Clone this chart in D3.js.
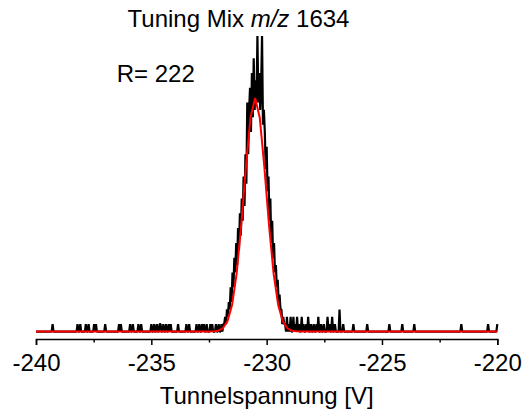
<!DOCTYPE html>
<html>
<head>
<meta charset="utf-8">
<script src="https://cdn.jsdelivr.net/npm/d3@7"></script>
<style>
  html, body { margin: 0; padding: 0; background: #fff; }
  svg { display: block; }
  text { font-family: "Liberation Sans", Arial, Helvetica, sans-serif; fill: #000; }
</style>
</head>
<body>
<svg id="chart" width="522" height="412"></svg>
<script>
// Tunnel voltage sweep: recorded ion counts (black) and Gaussian fit (red)

// Recorded trace, sampled every 0.04 V from -240 V to -220 V
const traceStart = -240;
const traceEnd = -220;
const traceStep = 0.04;

// Isolated background hits outside the peak window
const hitVoltages = [
  -239.28, -238.19, -238.08, -237.83, -237.73, -237.50, -237.40, -236.99,
  -236.39, -236.30, -235.92, -235.80, -235.57, -235.44, -235.01, -234.86,
  -234.77, -234.66, -234.58, -234.47, -234.36, -234.25, -234.16, -233.85,
  -233.49, -233.35, -233.04, -232.93, -232.82, -232.71, -232.58, -232.45,
  -232.34, -232.21, -232.10,
  -229.12, -229.05, -228.96, -228.85, -228.76, -228.68, -228.59, -228.50,
  -228.40, -228.29, -228.20, -228.09, -227.98, -227.85, -227.74, -227.64,
  -227.51, -227.38, -227.27, -227.16, -227.03, -226.84, -226.68,
  -226.23, -225.63, -224.69, -224.14, -223.60, -221.56, -220.39, -220.00
];
const hitCounts = [
  1, 1, 1, 1, 1, 1, 1, 1,
  1, 1, 1, 1, 1, 1, 1, 1,
  1, 1, 1, 1, 1, 1, 1, 1,
  1, 1, 1, 1, 1, 1, 1, 1,
  1, 1, 1,
  2, 1, 2, 2, 1, 2, 1, 2,
  1, 1, 2, 1, 1, 1, 2, 1,
  1, 2, 1, 2, 1, 3, 1,
  1, 1, 1, 1, 1, 1, 1, 1
];

// Peak window, starting at -232.00 V, one count per 0.04 V step
const peakStart = -232.0;
const peakCounts = [
  0, 1, 0, 1, 1, 2, 1, 3, 2, 4,
  3, 6, 4, 8, 6, 10, 8, 12, 9, 14,
  11, 16, 13, 18, 15, 21, 17, 24, 20, 31,
  24, 30, 33, 27, 35, 29, 37, 30, 34, 31,
  40, 31, 35, 30, 33, 40, 28, 30, 27, 22,
  25, 19, 21, 15, 18, 12, 15, 10, 12, 8,
  9, 6, 7, 4, 5, 3, 3, 1, 2, 1,
  1
];

// Gaussian fit evaluated on a 0.2 V grid around the centre
const fitVoltages = [
  -240, -232.5, -232.3, -232.1, -231.9, -231.7, -231.5, -231.3, -231.1,
  -230.9, -230.7, -230.5, -230.3, -230.1, -229.9, -229.7, -229.5, -229.3,
  -229.1, -228.9, -228.7, -228.5, -220
];
const fitCounts = [
  0, 0, 0.03, 0.12, 0.45, 1.39, 3.60, 7.88, 14.5,
  22.3, 28.98, 31.6, 28.98, 22.3, 14.5, 7.88, 3.60, 1.39,
  0.45, 0.12, 0.03, 0, 0
];

// Axis ticks
const majorTicks = [-240, -235, -230, -225, -220];
const minorTicks = [-237.5, -232.5, -227.5, -222.5];

const titleParts = [
  { text: "Tuning Mix ", italic: false },
  { text: "m/z", italic: true },
  { text: " 1634", italic: false }
];
const resolutionLabel = "R= 222";
const xAxisLabel = "Tunnelspannung [V]";

// ---------------------------------------------------------------
const svg = d3.select("#chart");
svg.append("rect").attr("width", 522).attr("height", 412).attr("fill", "#fff");

const x = d3.scaleLinear().domain([-240, -220]).range([36, 497.3]);
const y = d3.scaleLinear().domain([0, 40]).range([331.6, 36]);
const axisY = 339;

// Assemble the full trace from background hits and the peak window
const nSamples = Math.round((traceEnd - traceStart) / traceStep) + 1;
const trace = d3.range(nSamples).map(k => ({ v: traceStart + k * traceStep, c: 0 }));
hitVoltages.forEach((v, i) => {
  const k = Math.round((v - traceStart) / traceStep);
  if (k >= 0 && k < nSamples) trace[k].c = hitCounts[i];
});
const k0 = Math.round((peakStart - traceStart) / traceStep);
peakCounts.forEach((c, j) => { trace[k0 + j].c = c; });

const line = d3.line().x(d => x(d.v)).y(d => y(d.c));

svg.append("path")
  .datum(trace)
  .attr("fill", "none")
  .attr("stroke", "#000")
  .attr("stroke-width", 2.2)
  .attr("stroke-linejoin", "bevel")
  .attr("d", line);

const fit = fitVoltages.map((v, i) => ({ v, c: fitCounts[i] }));
svg.append("path")
  .datum(fit)
  .attr("fill", "none")
  .attr("stroke", "#ff0000")
  .attr("stroke-width", 2)
  .attr("d", line);

// Bottom axis: major ticks with labels, minor ticks without
const axisG = svg.append("g").attr("transform", `translate(0,${axisY})`);
axisG.call(
  d3.axisBottom(x)
    .tickValues(majorTicks)
    .tickSize(6)
    .tickPadding(9)
    .tickFormat(d => String(d))
);
axisG.append("g").call(
  d3.axisBottom(x)
    .tickValues(minorTicks)
    .tickSize(3.5)
    .tickFormat("")
).select(".domain").remove();

axisG.selectAll(".domain").attr("stroke", "#000").attr("stroke-width", 1.5);
axisG.selectAll(".tick line").attr("stroke", "#000").attr("stroke-width", 1.5);
axisG.selectAll(".tick text")
  .attr("font-size", 24)
  .attr("font-family", "'Liberation Sans', Arial, sans-serif")
  .attr("fill", "#000");

// Axis title
svg.append("text")
  .attr("x", 266.7)
  .attr("y", 404)
  .attr("text-anchor", "middle")
  .attr("font-size", 24)
  .text(xAxisLabel);

// Chart title with italic m/z
const title = svg.append("text")
  .attr("x", 238.5)
  .attr("y", 27)
  .attr("text-anchor", "middle")
  .attr("font-size", 24);
titleParts.forEach(p => {
  title.append("tspan")
    .attr("font-style", p.italic ? "italic" : "normal")
    .text(p.text);
});

// Resolution annotation
svg.append("text")
  .attr("x", 116.7)
  .attr("y", 82)
  .attr("font-size", 24)
  .text(resolutionLabel);
</script>
</body>
</html>
